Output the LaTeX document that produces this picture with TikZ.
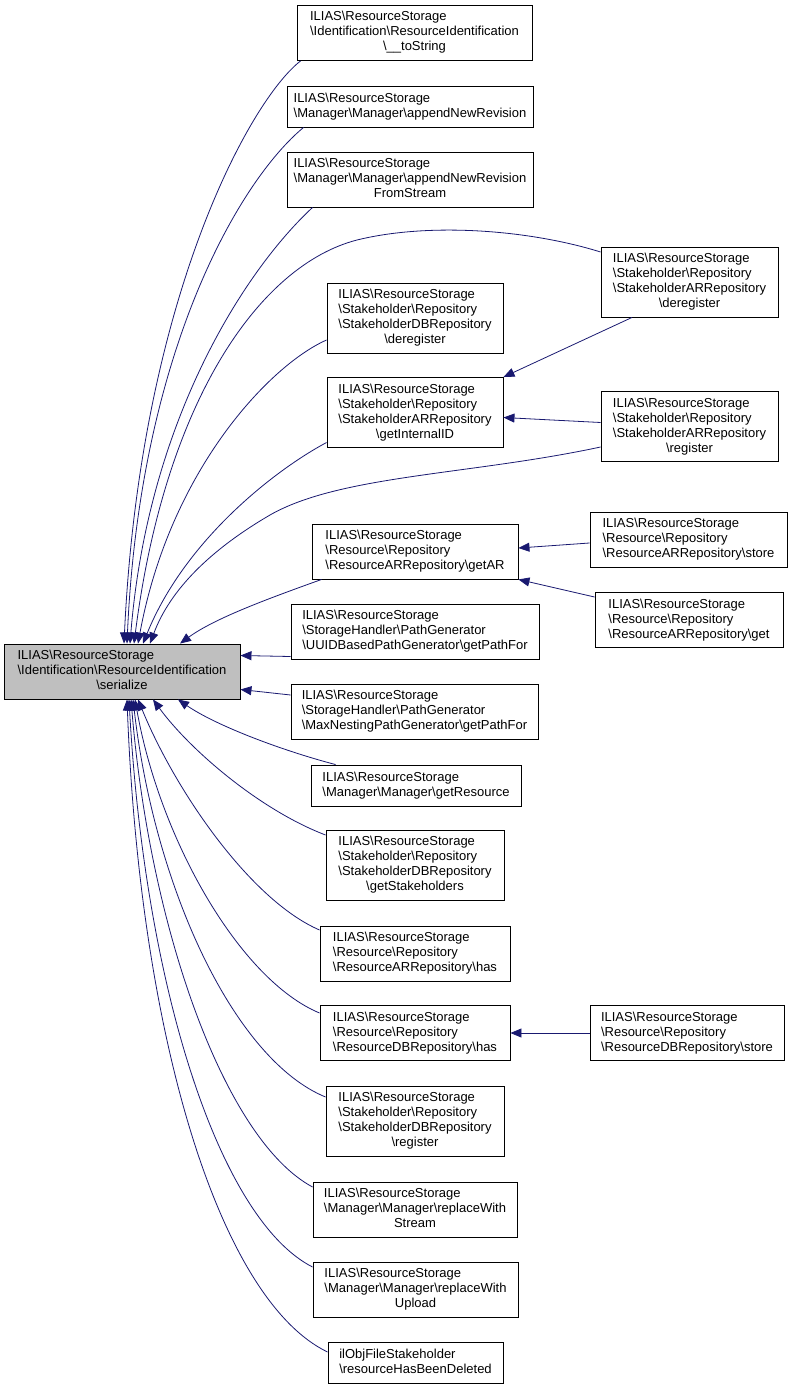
\documentclass[tikz,border=0pt]{standalone}
\usepackage{fontspec}
\setmainfont{Liberation Sans}
\usetikzlibrary{arrows.meta}
\definecolor{edgeblue}{HTML}{191970}
\newcommand{\bs}{\textbackslash}
\newcommand{\doxtext}[2]{\begin{tabular}{@{}l@{}}#1\\\multicolumn{1}{@{}c@{}}{#2}\end{tabular}}

\begin{document}
\begin{tikzpicture}[x=1pt,y=1pt,
  box/.style={draw=black, line width=0.9pt, fill=white, inner sep=0pt, font=\fontsize{13}{15}\selectfont, minimum width=#1},
  h2/.style={minimum height=41pt},
  h3/.style={minimum height=55pt},
  h4/.style={minimum height=70pt},
  edge/.style={draw=edgeblue, line width=0.8pt, -{Triangle[length=11pt,width=9pt]}}]
  \useasboundingbox (0,0) rectangle (793,-1389);
  % the function itself
  \node[box=236pt, h3, fill=black!25] (ser) at (122,-671.5) {\doxtext{ILIAS\bs ResourceStorage\\\bs Identification\bs ResourceIdentification}{\bs serialize}};
  % direct callers
  \node[box=235pt, h3] (tostr) at (414.5,-33) {\doxtext{ILIAS\bs ResourceStorage\\\bs Identification\bs ResourceIdentification}{\bs\_\_toString}};
  \node[box=246pt, h2] (anr) at (410,-106.5) {\doxtext{ILIAS\bs ResourceStorage}{\bs Manager\bs Manager\bs appendNewRevision}};
  \node[box=246pt, h3] (anrfs) at (410,-179.5) {\doxtext{ILIAS\bs ResourceStorage\\\bs Manager\bs Manager\bs appendNewRevision}{FromStream}};
  \node[box=176pt, h4] (sdbdereg) at (415,-318) {\doxtext{ILIAS\bs ResourceStorage\\\bs Stakeholder\bs Repository\\\bs StakeholderDBRepository}{\bs deregister}};
  \node[box=176pt, h4] (getid) at (415,-412.5) {\doxtext{ILIAS\bs ResourceStorage\\\bs Stakeholder\bs Repository\\\bs StakeholderARRepository}{\bs getInternalID}};
  \node[box=206pt, h3] (getar) at (415,-551.5) {\doxtext{ILIAS\bs ResourceStorage\\\bs Resource\bs Repository}{\bs ResourceARRepository\bs getAR}};
  \node[box=248pt, h3] (uuid) at (415,-631.5) {\doxtext{ILIAS\bs ResourceStorage\\\bs StorageHandler\bs PathGenerator}{\bs UUIDBasedPathGenerator\bs getPathFor}};
  \node[box=247pt, h3] (maxnest) at (414.5,-711.5) {\doxtext{ILIAS\bs ResourceStorage\\\bs StorageHandler\bs PathGenerator}{\bs MaxNestingPathGenerator\bs getPathFor}};
  \node[box=210pt, h2] (getres) at (416,-785.5) {\doxtext{ILIAS\bs ResourceStorage}{\bs Manager\bs Manager\bs getResource}};
  \node[box=178pt, h4] (getstake) at (415,-865) {\doxtext{ILIAS\bs ResourceStorage\\\bs Stakeholder\bs Repository\\\bs StakeholderDBRepository}{\bs getStakeholders}};
  \node[box=190pt, h3] (rarhas) at (415,-953.5) {\doxtext{ILIAS\bs ResourceStorage\\\bs Resource\bs Repository}{\bs ResourceARRepository\bs has}};
  \node[box=190pt, h3] (rdbhas) at (415,-1033) {\doxtext{ILIAS\bs ResourceStorage\\\bs Resource\bs Repository}{\bs ResourceDBRepository\bs has}};
  \node[box=178pt, h4] (sdbreg) at (415,-1121) {\doxtext{ILIAS\bs ResourceStorage\\\bs Stakeholder\bs Repository\\\bs StakeholderDBRepository}{\bs register}};
  \node[box=204pt, h3] (rws) at (415,-1209.5) {\doxtext{ILIAS\bs ResourceStorage\\\bs Manager\bs Manager\bs replaceWith}{Stream}};
  \node[box=205pt, h3] (rwu) at (415.5,-1289.5) {\doxtext{ILIAS\bs ResourceStorage\\\bs Manager\bs Manager\bs replaceWith}{Upload}};
  \node[box=175pt, h2] (rhbd) at (415.5,-1362.5) {\doxtext{ilObjFileStakeholder}{\bs resourceHasBeenDeleted}};
  % second level callers
  \node[box=177pt, h4] (sardereg) at (689.5,-282) {\doxtext{ILIAS\bs ResourceStorage\\\bs Stakeholder\bs Repository\\\bs StakeholderARRepository}{\bs deregister}};
  \node[box=177pt, h4] (sarreg) at (689.5,-426.5) {\doxtext{ILIAS\bs ResourceStorage\\\bs Stakeholder\bs Repository\\\bs StakeholderARRepository}{\bs register}};
  \node[box=197pt, h3] (rarstore) at (688.5,-539.5) {\doxtext{ILIAS\bs ResourceStorage\\\bs Resource\bs Repository}{\bs ResourceARRepository\bs store}};
  \node[box=188pt, h3] (rarget) at (689,-620) {\doxtext{ILIAS\bs ResourceStorage\\\bs Resource\bs Repository}{\bs ResourceARRepository\bs get}};
  \node[box=194pt, h3] (rdbstore) at (687,-1033) {\doxtext{ILIAS\bs ResourceStorage\\\bs Resource\bs Repository}{\bs ResourceDBRepository\bs store}};

  % edges into serialize from above
  \draw[edge] ([xshift=4pt]tostr.south west) .. controls (250,-100) and (140,-300) .. ([xshift=2pt]ser.north);
  \draw[edge] ([xshift=17pt]anr.south west) .. controls (240,-180) and (140,-350) .. ([xshift=5pt]ser.north);
  \draw[edge] ([xshift=26pt]anrfs.south west) .. controls (245,-270) and (148,-420) .. ([xshift=8pt]ser.north);
  \draw[edge] ([yshift=30pt]sardereg.west) .. controls (530,-230) and (430,-222) .. (357,-240)
    .. controls (260,-265) and (165,-400) .. ([xshift=12pt]ser.north);
  \draw[edge] ([yshift=-22pt]sdbdereg.west) .. controls (270,-365) and (170,-470) .. ([xshift=16pt]ser.north);
  \draw[edge] ([yshift=-30pt]getid.west) .. controls (275,-470) and (185,-540) .. ([xshift=21pt]ser.north);
  \draw[edge] ([yshift=-20.5pt]sarreg.west) .. controls (470,-475) and (340,-475) .. (270,-515)
    .. controls (210,-550) and (170,-590) .. ([xshift=28pt]ser.north);
  \draw[edge] ([xshift=10pt]getar.south west) .. controls (270,-598) and (215,-618) .. ([xshift=58pt]ser.north);
  \draw[edge] ([yshift=-25pt]uuid.west) -- ([yshift=16pt]ser.east);
  \draw[edge] ([yshift=16.5pt]maxnest.west) -- ([yshift=-18pt]ser.east);
  % edges into serialize from below
  \draw[edge] ([xshift=25pt]getres.north west) .. controls (280,-750) and (215,-725) .. ([xshift=56pt]ser.south);
  \draw[edge] ([yshift=30pt]getstake.west) .. controls (260,-810) and (190,-750) .. ([xshift=31pt]ser.south);
  \draw[edge] ([yshift=23.5pt]rarhas.west) .. controls (250,-900) and (175,-790) .. ([xshift=16pt]ser.south);
  \draw[edge] ([yshift=20pt]rdbhas.west) .. controls (240,-980) and (160,-840) .. ([xshift=13pt]ser.south);
  \draw[edge] ([yshift=24pt]sdbreg.west) .. controls (235,-1060) and (155,-890) .. ([xshift=11pt]ser.south);
  \draw[edge] ([yshift=22.5pt]rws.west) .. controls (225,-1140) and (150,-930) .. ([xshift=9pt]ser.south);
  \draw[edge] ([yshift=22.5pt]rwu.west) .. controls (220,-1220) and (145,-990) .. ([xshift=7pt]ser.south);
  \draw[edge] ([yshift=10.5pt]rhbd.west) .. controls (220,-1300) and (140,-1040) .. ([xshift=5pt]ser.south);
  % second level edges
  \draw[edge] ([xshift=-57.5pt]sardereg.south) -- (getid.north east);
  \draw[edge] ([yshift=4pt]sarreg.west) -- ([yshift=-5pt]getid.east);
  \draw[edge] ([yshift=-3.5pt]rarstore.west) -- ([yshift=3.5pt]getar.east);
  \draw[edge] ([yshift=23pt]rarget.west) -- (getar.south east);
  \draw[edge] (rdbstore.west) -- (rdbhas.east);
\end{tikzpicture}
\end{document}
